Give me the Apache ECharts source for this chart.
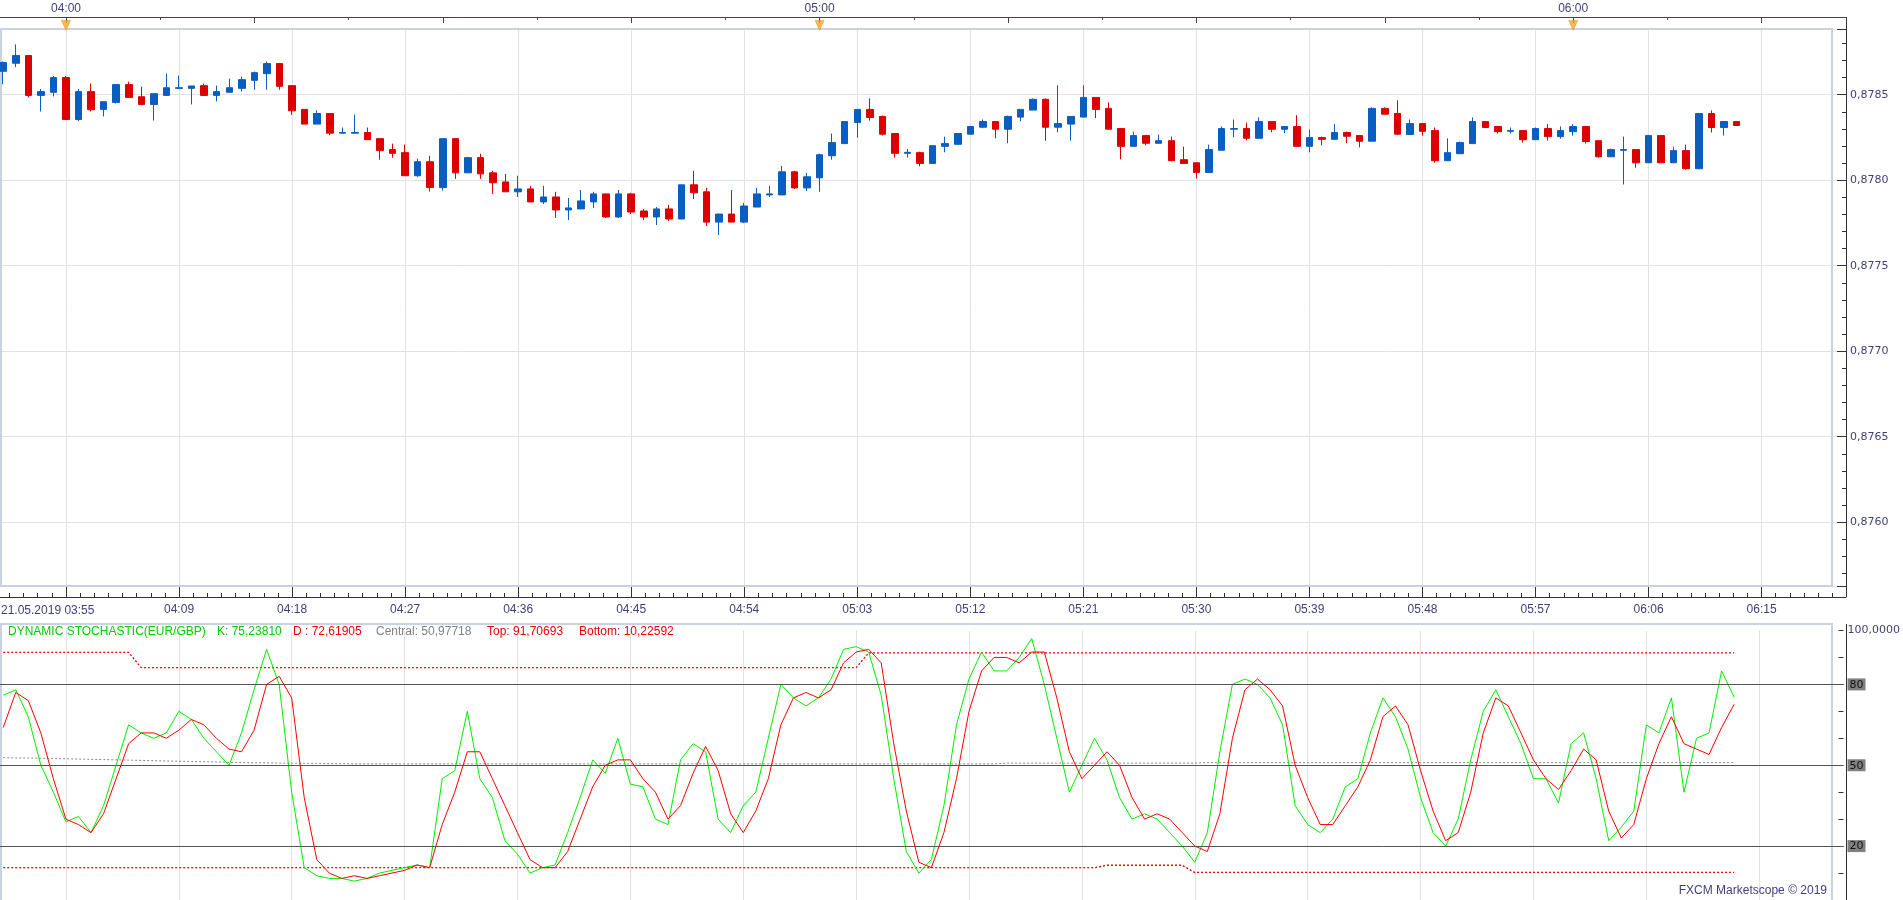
<!DOCTYPE html>
<html><head><meta charset="utf-8">
<script src="https://cdn.jsdelivr.net/npm/echarts@6/dist/echarts.min.js"></script>
<style>html,body{margin:0;padding:0;background:#fff;overflow:hidden}#c{width:1903px;height:900px}</style>
</head><body><div id="c"></div>
<script>
const times = ['03:55','03:56','03:57','03:58','03:59',
'04:00','04:01','04:02','04:03','04:04','04:05','04:06','04:07','04:08','04:09','04:10','04:11','04:12','04:13','04:14','04:15','04:16','04:17','04:18','04:19','04:20','04:21','04:22','04:23','04:24','04:25','04:26','04:27','04:28','04:29','04:30','04:31','04:32','04:33','04:34','04:35','04:36','04:37','04:38','04:39','04:40','04:41','04:42','04:43','04:44','04:45','04:46','04:47','04:48','04:49','04:50','04:51','04:52','04:53','04:54','04:55','04:56','04:57','04:58','04:59',
'05:00','05:01','05:02','05:03','05:04','05:05','05:06','05:07','05:08','05:09','05:10','05:11','05:12','05:13','05:14','05:15','05:16','05:17','05:18','05:19','05:20','05:21','05:22','05:23','05:24','05:25','05:26','05:27','05:28','05:29','05:30','05:31','05:32','05:33','05:34','05:35','05:36','05:37','05:38','05:39','05:40','05:41','05:42','05:43','05:44','05:45','05:46','05:47','05:48','05:49','05:50','05:51','05:52','05:53','05:54','05:55','05:56','05:57','05:58','05:59',
'06:00','06:01','06:02','06:03','06:04','06:05','06:06','06:07','06:08','06:09','06:10','06:11','06:12','06:13'];

const opens = [0.878637,0.878684,0.878729,0.878496,0.878514,0.878600,0.878355,0.878518,0.878414,0.878455,
0.878559,0.878488,0.878443,0.878496,0.878537,0.878537,0.878553,0.878496,0.878514,0.878537,
0.878584,0.878623,0.878682,0.878553,0.878414,0.878328,0.878390,0.878275,0.878275,0.878279,
0.878243,0.878179,0.878161,0.878026,0.878108,0.877957,0.878243,0.878043,0.878132,0.878043,
0.877990,0.877932,0.877949,0.877873,0.877902,0.877826,0.877832,0.877873,0.877920,0.877785,
0.877920,0.877820,0.877785,0.877832,0.877773,0.877973,0.877932,0.877755,0.877802,0.877755,
0.877843,0.877914,0.877914,0.878049,0.877955,0.878014,0.878143,0.878214,0.878337,0.878414,
0.878373,0.878273,0.878157,0.878161,0.878098,0.878198,0.878210,0.878269,0.878310,0.878343,
0.878298,0.878369,0.878410,0.878473,0.878310,0.878328,0.878369,0.878484,0.878420,0.878302,
0.878198,0.878261,0.878216,0.878231,0.878120,0.878102,0.878045,0.878175,0.878298,0.878302,
0.878245,0.878343,0.878298,0.878314,0.878198,0.878249,0.878239,0.878279,0.878261,0.878228,
0.878420,0.878390,0.878267,0.878331,0.878290,0.878114,0.878155,0.878214,0.878343,0.878314,
0.878286,0.878290,0.878237,0.878302,0.878255,0.878284,0.878314,0.878231,0.878137,0.878175,
0.878179,0.878102,0.878261,0.878102,0.878173,0.878067,0.878390,0.878308,0.878343];
const closes = [0.878688,0.878729,0.878496,0.878518,0.878600,0.878355,0.878518,0.878412,0.878459,0.878559,
0.878484,0.878443,0.878506,0.878541,0.878541,0.878551,0.878496,0.878518,0.878541,0.878588,
0.878629,0.878682,0.878549,0.878406,0.878328,0.878390,0.878275,0.878279,0.878279,0.878237,
0.878173,0.878157,0.878026,0.878108,0.877957,0.878243,0.878043,0.878132,0.878037,0.877985,
0.877932,0.877949,0.877873,0.877902,0.877826,0.877838,0.877879,0.877920,0.877785,0.877920,
0.877814,0.877785,0.877832,0.877773,0.877973,0.877926,0.877755,0.877802,0.877755,0.877849,
0.877920,0.877920,0.878049,0.877955,0.878020,0.878149,0.878220,0.878343,0.878414,0.878367,
0.878269,0.878157,0.878163,0.878098,0.878202,0.878214,0.878273,0.878314,0.878343,0.878298,
0.878373,0.878414,0.878473,0.878310,0.878331,0.878373,0.878484,0.878414,0.878298,0.878198,
0.878261,0.878216,0.878231,0.878114,0.878098,0.878045,0.878179,0.878302,0.878302,0.878245,
0.878343,0.878298,0.878314,0.878198,0.878249,0.878239,0.878279,0.878257,0.878228,0.878420,
0.878386,0.878269,0.878331,0.878286,0.878114,0.878161,0.878220,0.878343,0.878308,0.878284,
0.878290,0.878237,0.878302,0.878255,0.878290,0.878314,0.878226,0.878137,0.878179,0.878179,
0.878102,0.878261,0.878102,0.878173,0.878067,0.878390,0.878308,0.878343,0.878320];
const lows = [0.878561,0.878661,0.878484,0.878402,0.878490,0.878355,0.878345,0.878402,0.878373,0.878449,
0.878484,0.878443,0.878349,0.878496,0.878537,0.878443,0.878492,0.878461,0.878514,0.878518,
0.878529,0.878529,0.878529,0.878382,0.878328,0.878328,0.878263,0.878275,0.878275,0.878237,
0.878120,0.878132,0.878026,0.878020,0.877934,0.877940,0.878008,0.878043,0.878008,0.877920,
0.877932,0.877902,0.877873,0.877861,0.877779,0.877767,0.877832,0.877838,0.877779,0.877779,
0.877802,0.877767,0.877738,0.877761,0.877773,0.877890,0.877732,0.877679,0.877755,0.877749,
0.877843,0.877902,0.877914,0.877949,0.877937,0.877932,0.878120,0.878214,0.878249,0.878349,
0.878261,0.878133,0.878133,0.878081,0.878098,0.878163,0.878210,0.878269,0.878304,0.878245,
0.878216,0.878345,0.878410,0.878231,0.878280,0.878231,0.878369,0.878363,0.878298,0.878122,
0.878198,0.878204,0.878216,0.878114,0.878098,0.878010,0.878045,0.878175,0.878251,0.878233,
0.878245,0.878280,0.878275,0.878198,0.878163,0.878204,0.878239,0.878216,0.878192,0.878228,
0.878386,0.878263,0.878267,0.878261,0.878102,0.878114,0.878155,0.878214,0.878308,0.878273,
0.878273,0.878220,0.878237,0.878231,0.878243,0.878261,0.878214,0.878132,0.878137,0.877975,
0.878073,0.878102,0.878102,0.878102,0.878061,0.878067,0.878279,0.878261,0.878320];
const highs = [0.878694,0.878794,0.878729,0.878533,0.878610,0.878610,0.878533,0.878565,0.878459,0.878559,
0.878576,0.878547,0.878506,0.878623,0.878612,0.878551,0.878565,0.878553,0.878594,0.878606,
0.878635,0.878694,0.878682,0.878553,0.878414,0.878408,0.878390,0.878308,0.878384,0.878308,
0.878243,0.878214,0.878208,0.878126,0.878143,0.878243,0.878243,0.878137,0.878155,0.878055,
0.878037,0.878026,0.877967,0.877967,0.877932,0.877896,0.877943,0.877932,0.877920,0.877943,
0.877926,0.877832,0.877843,0.877855,0.877973,0.878055,0.877955,0.877802,0.877943,0.877867,
0.877955,0.877967,0.878084,0.878055,0.878043,0.878155,0.878273,0.878343,0.878414,0.878478,
0.878378,0.878273,0.878182,0.878167,0.878202,0.878255,0.878273,0.878314,0.878355,0.878343,
0.878378,0.878414,0.878478,0.878478,0.878555,0.878373,0.878555,0.878484,0.878455,0.878302,
0.878284,0.878261,0.878267,0.878255,0.878196,0.878102,0.878208,0.878314,0.878355,0.878337,
0.878367,0.878343,0.878314,0.878380,0.878296,0.878255,0.878328,0.878284,0.878261,0.878426,
0.878426,0.878467,0.878355,0.878331,0.878308,0.878245,0.878226,0.878367,0.878343,0.878314,
0.878308,0.878290,0.878308,0.878328,0.878314,0.878328,0.878314,0.878231,0.878184,0.878255,
0.878179,0.878261,0.878261,0.878196,0.878208,0.878390,0.878408,0.878343,0.878343];

const kValues = [76,78,68,50,40,29,31,25,35,50, 65,62,60,62,70,67,60,55,50,62,
78,93,80,40,12,9,8,8,7,8, 10,11,12,13,12,45,48,70,45,38,
22,17,10,12,13,25,38,52,47,60, 43,42,30,28,52,58,55,30,25,35,
40,60,80,75,72,75,82,93,94,92, 76,45,18,10,15,35,65,82,92,85,
85,90,97,80,60,40,50,60,52,38, 30,32,30,25,20,14,25,55,80,82,
80,75,65,35,28,25,30,42,45,62, 75,68,56,38,25,20,30,52,70,78,
68,58,45,45,36,58,62,45,22,27, 33,65,62,75,40,60,62,85,75.2381];
const dValues = [64,77,74,62,45,30,28,25,32,45, 58,62,62,60,63,67,65,60,56,55,
63,80,83,75,38,15,10,8,9,8, 9,10,11,13,12,28,40,55,55,45,
35,25,15,12,12,18,30,42,50,52, 52,45,40,30,35,47,57,48,32,25,
33,45,65,75,77,75,78,88,92,93, 88,58,33,14,12,25,45,70,85,90,
90,88,92,92,75,55,45,50,55,50, 38,30,32,30,25,20,18,32,60,78,
82,78,72,50,38,28,28,35,42,52, 68,72,65,48,33,22,25,40,62,75,
72,62,52,45,41,48,56,52,33,23, 28,45,58,68,58,56,54,64,72.61905];
const topValues = [91.9,91.9,91.9,91.9,91.9,91.9,91.9,91.9,91.9,91.9,91.9,
86.2,86.2,86.2,86.2,86.2,86.2,86.2,86.2,86.2,86.2,86.2,86.2,86.2,86.2,86.2,86.2,86.2,86.2,86.2,86.2,
86.2,86.2,86.2,86.2,86.2,86.2,86.2,86.2,86.2,86.2,86.2,86.2,86.2,86.2,86.2,86.2,86.2,86.2,86.2,86.2,
86.2,86.2,86.2,86.2,86.2,86.2,86.2,86.2,86.2,86.2,86.2,86.2,86.2,86.2,86.2,86.2,86.2,86.2,
91.70693,91.70693,91.70693,91.70693,91.70693,91.70693,91.70693,91.70693,91.70693,91.70693,
91.70693,91.70693,91.70693,91.70693,91.70693,91.70693,91.70693,91.70693,91.70693,91.70693,
91.70693,91.70693,91.70693,91.70693,91.70693,91.70693,91.70693,91.70693,91.70693,91.70693,
91.70693,91.70693,91.70693,91.70693,91.70693,91.70693,91.70693,91.70693,91.70693,91.70693,
91.70693,91.70693,91.70693,91.70693,91.70693,91.70693,91.70693,91.70693,91.70693,91.70693,
91.70693,91.70693,91.70693,91.70693,91.70693,91.70693,91.70693,91.70693,91.70693,91.70693,
91.70693,91.70693,91.70693,91.70693,91.70693,91.70693,91.70693,91.70693,91.70693,91.70693];
const bottomValues = [12,12,12,12,12,12,12,12,12,12, 12,12,12,12,12,12,12,12,12,12,
12,12,12,12,12,12,12,12,12,12, 12,12,12,12,12,12,12,12,12,12,
12,12,12,12,12,12,12,12,12,12, 12,12,12,12,12,12,12,12,12,12,
12,12,12,12,12,12,12,12,12,12, 12,12,12,12,12,12,12,12,12,12,
12,12,12,12,12,12,12,12,12.9,12.9, 12.9,12.9,12.9,12.9,12.9,
10.22592,10.22592,10.22592,10.22592,10.22592,10.22592,10.22592,10.22592,10.22592,10.22592,
10.22592,10.22592,10.22592,10.22592,10.22592,10.22592,10.22592,10.22592,10.22592,10.22592,
10.22592,10.22592,10.22592,10.22592,10.22592,10.22592,10.22592,10.22592,10.22592,10.22592,
10.22592,10.22592,10.22592,10.22592,10.22592,10.22592,10.22592,10.22592,10.22592,10.22592,
10.22592,10.22592,10.22592,10.22592];
const centralValues = [52.8,52.7,52.7,52.6,52.5,52.4,52.3,52.2,52.1,52.0,
51.9,51.8,51.7,51.6,51.5,51.4,51.3,51.2,51.1,51.0,
50.9,50.9,50.8,50.8,50.7,50.7,50.6,50.6,50.5,50.5,
50.5,50.5,50.5,50.5,50.5,50.5,50.5,50.5,50.5,50.5, 50.5,50.5,50.5,50.5,50.5,50.5,50.5,50.5,50.5,50.5,
50.5,50.5,50.5,50.5,50.5,50.5,50.5,50.5,50.5,50.5, 50.5,50.5,50.5,50.5,50.5,50.5,50.5,50.5,50.5,50.5,
50.5,50.5,50.5,50.5,50.5,50.5,50.5,50.5,50.5,50.5,
50.8,50.8,50.8,50.8,50.8,50.8,50.8,50.8,50.8,50.8,50.8,50.8,50.8,50.8,50.8,50.8,
50.97718,50.97718,50.97718,50.97718,50.97718,50.97718,50.97718,50.97718,50.97718,50.97718,
50.97718,50.97718,50.97718,50.97718,50.97718,50.97718,50.97718,50.97718,50.97718,50.97718,
50.97718,50.97718,50.97718,50.97718,50.97718,50.97718,50.97718,50.97718,50.97718,50.97718,
50.97718,50.97718,50.97718,50.97718,50.97718,50.97718,50.97718,50.97718,50.97718,50.97718,
50.97718,50.97718,50.97718];
const levels = [80, 50, 20];
const hourMarks = ['04:00', '05:00', '06:00'];
const dateLabel = '21.05.2019 03:55';
const indicatorName = 'DYNAMIC STOCHASTIC(EUR/GBP)';

// ---- layout ----
const W = 1903, AXIS_X = 1846, PLOT_R = 1832;
const PX_PER_MIN = 12.56, ORIGIN_PX = 66; // pixel of 04:00
const BASE_MIN = 240;
const tx = t => { const p = t.split(':'); return (+p[0]) * 60 + (+p[1]) - BASE_MIN; };
const hhmm = v => { const m = Math.round(v) + BASE_MIN; return String(Math.floor(m / 60)).padStart(2, '0') + ':' + String(m % 60).padStart(2, '0'); };
const MIN_X = -ORIGIN_PX / PX_PER_MIN;
const MAX_X = MIN_X + AXIS_X / PX_PER_MIN;
const steps = (start, step, skipEvery) => { const out = []; let k = 0; for (let v = start; v <= MAX_X; v = start + (++k) * step) { if (v >= MIN_X && !(skipEvery && k % skipEvery === 0)) out.push(v); } return out; };
const bottomMajor = steps(0, 9);
const bottomLabels = bottomMajor.filter(v => v > 0);
const bottomMinor = steps(-9, 1.125, 8);
const topMajor = steps(0, 15);
const topMinor = steps(7.5, 15);
const topLabels = hourMarks.map(tx);

const yTopPx = 29, yBotPx = 586, ref1 = 0.8785, ref1Px = 94.7, pxPerUnit = 171000;
const yMax = ref1 + (ref1Px - yTopPx) / pxPerUnit;
const yMin = ref1 - (yBotPx - ref1Px) / pxPerUnit;

const comma = (v, d) => v.toFixed(d).replace('.', ',');
const last = a => a[a.length - 1];
const NAVY = '#3f3f78';
const FONT = 'Liberation Sans';
const HF = 12;

const candleData = times.map((t, i) => [tx(t), opens[i], closes[i], lows[i], highs[i]]);
const pair = arr => times.map((t, i) => [tx(t), arr[i]]);
const xBase = { type: 'value', min: MIN_X, max: MAX_X };
const noLine = { show: false, onZero: false };
const seg = (color, width) => ({ color: color, fontSize: HF, fontFamily: FONT, width: width });

const option = {
  animation: false,
  backgroundColor: '#fff',
  title: {
    left: 8, top: 626, padding: 0,
    text: '{n|' + indicatorName + '}{k|K: ' + comma(last(kValues), 5) + '}{d|D : ' + comma(last(dValues), 5) + '}{c|Central: ' + comma(last(centralValues), 5) + '}{t|Top: ' + comma(last(topValues), 5) + '}{b|Bottom: ' + comma(last(bottomValues), 5) + '}',
    textStyle: { fontSize: HF, fontFamily: FONT, fontWeight: 'normal',
      rich: { n: seg('#00cc00', 209), k: seg('#00cc00', 76), d: seg('#ee0000', 83), c: seg('#808080', 111), t: seg('#ee0000', 92), b: seg('#ee0000', 110) } }
  },
  grid: [
    { left: 0, right: W - AXIS_X, top: 29, height: 557 },
    { left: 0, right: W - AXIS_X, top: 17, height: 12 },
    { left: 0, right: W - AXIS_X, top: 630.5, bottom: 0 }
  ],
  xAxis: [
    Object.assign({}, xBase, { gridIndex: 0, position: 'bottom', offset: 11,
      axisLine: { show: true, onZero: false, lineStyle: { color: '#333', width: 1 } },
      axisTick: { show: true, inside: true, length: 10, customValues: bottomMajor, lineStyle: { color: '#333' } },
      axisLabel: { color: NAVY, fontSize: 12, fontFamily: FONT, margin: 7, customValues: bottomLabels, formatter: v => hhmm(v) },
      splitLine: { show: true, lineStyle: { color: '#e2e2e2', width: 1 } } }),
    Object.assign({}, xBase, { gridIndex: 0, position: 'bottom', offset: 11,
      axisLine: noLine,
      axisTick: { show: true, inside: true, length: 4, customValues: bottomMinor, lineStyle: { color: '#333' } },
      axisLabel: { show: false }, splitLine: { show: false } }),
    Object.assign({}, xBase, { gridIndex: 1, position: 'top',
      axisLine: { show: true, onZero: false, lineStyle: { color: '#444', width: 1 } },
      axisTick: { show: true, inside: true, length: 6, customValues: topMajor, lineStyle: { color: '#444' } },
      axisLabel: { color: NAVY, fontSize: 12, fontFamily: FONT, margin: 2, customValues: topLabels, formatter: v => hhmm(v) },
      splitLine: { show: false } }),
    Object.assign({}, xBase, { gridIndex: 1, position: 'top',
      axisLine: noLine,
      axisTick: { show: true, inside: true, length: 3, customValues: topMinor, lineStyle: { color: '#444' } },
      axisLabel: { show: false }, splitLine: { show: false } }),
    Object.assign({}, xBase, { gridIndex: 2,
      axisLine: noLine, axisTick: { show: false, customValues: bottomMajor }, axisLabel: { show: false },
      splitLine: { show: true, lineStyle: { color: '#e2e2e2', width: 1 } } })
  ],
  yAxis: [
    { gridIndex: 0, type: 'value', position: 'right', min: yMin, max: yMax, splitNumber: 6,
      axisLine: noLine,
      axisTick: { show: true, inside: true, length: 9, lineStyle: { color: '#333' } },
      minorTick: { show: true, splitNumber: 5, length: 4, lineStyle: { color: '#333' } },
      axisLabel: { color: NAVY, fontSize: 11, fontFamily: 'DejaVu Sans', margin: 4, showMinLabel: false, showMaxLabel: false,
        formatter: v => comma(v, 4) },
      splitLine: { show: true, lineStyle: { color: '#e2e2e2', width: 1 } } },
    { gridIndex: 1, type: 'value', min: 0, max: 1, show: false, axisLine: noLine },
    { gridIndex: 2, type: 'value', position: 'right', min: 0, max: 100, interval: 10,
      axisLine: noLine,
      axisTick: { show: true, inside: true, length: 5, lineStyle: { color: '#333' } },
      axisLabel: { fontSize: 11, fontFamily: 'DejaVu Sans', margin: 4, color: NAVY,
        formatter: v => v === 100 ? comma(v, 4) : (levels.indexOf(v) >= 0 ? '{b|' + v + '}' : ''),
        rich: { b: { backgroundColor: '#808080', color: '#111', fontSize: 11, fontFamily: 'DejaVu Sans', padding: [1, 2, 0, 2] } } },
      splitLine: { show: false } }
  ],
  series: [
    { type: 'candlestick', xAxisIndex: 0, yAxisIndex: 0, data: candleData, encode: { x: 0, y: [1, 2, 3, 4] },
      barWidth: 7, z: 3,
      itemStyle: { color: '#0a5ec2', color0: '#dd0000', borderColor: '#0a5ec2', borderColor0: '#dd0000', borderWidth: 1 },
      markLine: { silent: true, symbol: ['none', 'none'], animation: false,
        data: [{ yAxis: last(closes) }],
        lineStyle: { opacity: 0 },
        label: { show: true, position: 'end', distance: 1, formatter: () => comma(last(closes), 5),
          backgroundColor: '#63c6f2', color: '#000', fontSize: 11, fontFamily: 'DejaVu Sans', padding: [4, 2, 3, 2] } } },
    { type: 'scatter', xAxisIndex: 2, yAxisIndex: 1, z: 5,
      data: hourMarks.map(t => [tx(t), 0.3]),
      symbol: 'path://M0,0L10,0L5,11Z', symbolSize: [9, 10],
      itemStyle: { color: '#f7a520', borderColor: '#d98a00', borderWidth: 0.5 } },
    { type: 'line', name: 'Central', xAxisIndex: 4, yAxisIndex: 2, data: pair(centralValues), symbol: 'none', z: 2,
      lineStyle: { color: '#888', width: 1, type: [2, 2] },
      markLine: { silent: true, symbol: ['none', 'none'], animation: false, label: { show: false },
        lineStyle: { color: '#555', width: 1, type: 'solid' },
        data: levels.map(v => ({ yAxis: v })) } },
    { type: 'line', name: 'Top', xAxisIndex: 4, yAxisIndex: 2, data: pair(topValues), symbol: 'none', z: 3,
      lineStyle: { color: '#ee0000', width: 1.3, type: [2, 2] } },
    { type: 'line', name: 'Bottom', xAxisIndex: 4, yAxisIndex: 2, data: pair(bottomValues), symbol: 'none', z: 3,
      lineStyle: { color: '#ee0000', width: 1.3, type: [2, 2] } },
    { type: 'line', name: 'K', xAxisIndex: 4, yAxisIndex: 2, data: pair(kValues), symbol: 'none', z: 4,
      lineStyle: { color: '#00ee00', width: 1 } },
    { type: 'line', name: 'D', xAxisIndex: 4, yAxisIndex: 2, data: pair(dValues), symbol: 'none', z: 5,
      lineStyle: { color: '#ff0000', width: 1 } }
  ],
  graphic: [
    { type: 'rect', silent: true, z: 1, shape: { x: 1, y: 29, width: PLOT_R - 1, height: 557 }, style: { fill: 'none', stroke: '#c9d2de', lineWidth: 2 } },
    { type: 'rect', silent: true, z: 1, shape: { x: 1, y: 624, width: PLOT_R - 1, height: 300 }, style: { fill: 'none', stroke: '#c9d2de', lineWidth: 2 } },
    { type: 'line', silent: true, z: 10, shape: { x1: AXIS_X + 0.5, y1: 17, x2: AXIS_X + 0.5, y2: 597 }, style: { stroke: '#333', lineWidth: 1 } },
    { type: 'line', silent: true, z: 10, shape: { x1: AXIS_X + 0.5, y1: 624, x2: AXIS_X + 0.5, y2: 900 }, style: { stroke: '#333', lineWidth: 1 } },
    { type: 'text', silent: true, z: 10, x: 1, y: 611, style: { text: dateLabel, fill: NAVY, font: '12px "Liberation Sans"', align: 'left', verticalAlign: 'middle' } },
    { type: 'text', silent: true, z: 10, x: 1827, y: 891, style: { text: 'FXCM Marketscope © 2019', fill: NAVY, font: '12px "Liberation Sans"', align: 'right', verticalAlign: 'middle' } }
  ]
};
const chart = echarts.init(document.getElementById('c'), null, { renderer: 'canvas' });
chart.setOption(option);
</script></body></html>
